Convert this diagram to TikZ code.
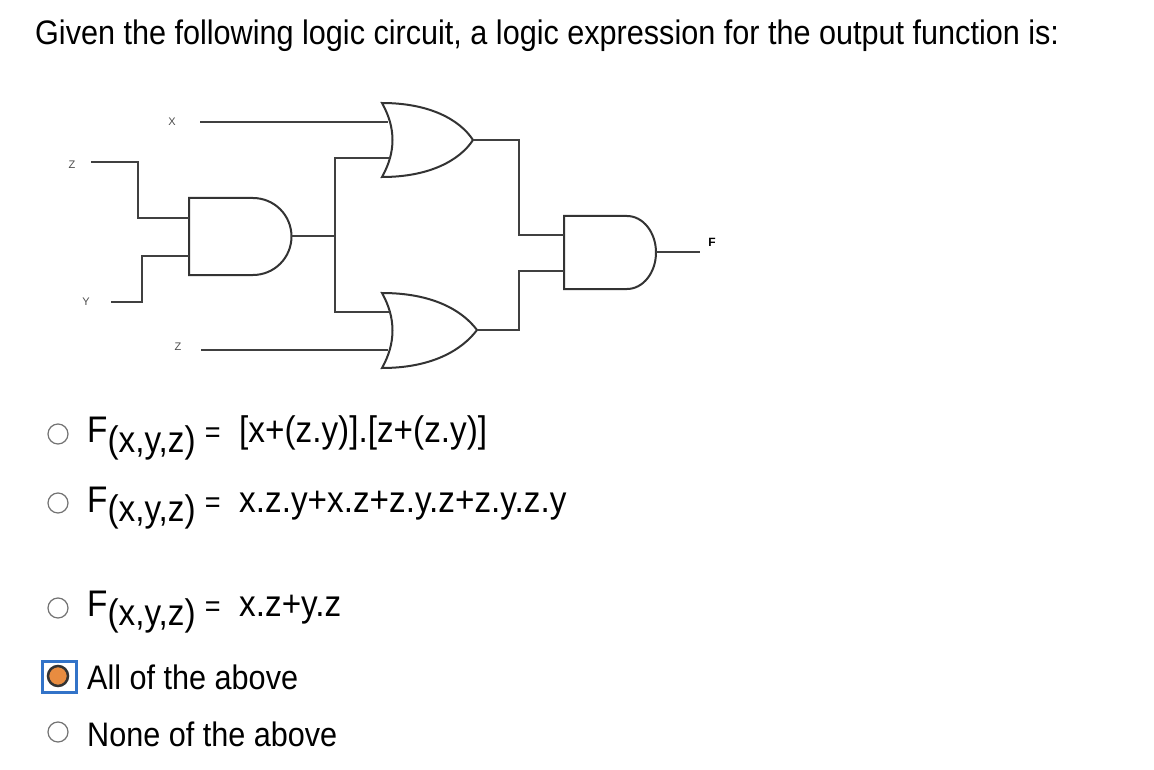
\documentclass[tikz,border=0pt]{standalone}
\usepackage{fontspec}
\setmainfont{Liberation Sans}
\begin{document}
\begin{tikzpicture}[x=1pt,y=-1pt,
  wire/.style={draw=black!75,line width=2pt},
  gate/.style={draw=black!80,line width=2pt},
  lbl/.style={text=black!70,font=\fontsize{11}{12}\selectfont,inner sep=0pt},
  txt/.style={anchor=west,inner sep=0pt,xscale=0.9,font=\fontsize{34}{38}\selectfont},
  otxt/.style={anchor=west,inner sep=0pt,xscale=0.9,font=\fontsize{37}{40}\selectfont},
  radio/.style={draw=black!55,line width=1.2pt,circle,minimum size=20pt,inner sep=0pt}]
\useasboundingbox (0,0) rectangle (1154,770);
\node[txt] (title) at (35,36) {Given the following logic circuit, a logic expression for the output function is:};
% OR gates
\draw[gate] (382,103) .. controls (396,128) and (396,152) .. (382,177)
  .. controls (430,177) and (460,160) .. (473,140)
  .. controls (460,120) and (430,103) .. cycle;
\draw[gate] (382,293) .. controls (396,318) and (396,343) .. (382,368)
  .. controls (432,368) and (462,350) .. (477,330)
  .. controls (462,310) and (432,293) .. cycle;
% AND gates
\draw[gate] (253,198) -- (189,198) -- (189,275) -- (253,275) arc (90:-90:38.5 and 38.5);
\draw[gate] (627,216) -- (564,216) -- (564,289) -- (627,289) arc (90:-90:29 and 36.5);
\coordinate (or1a) at (388,122); \coordinate (or1b) at (390,158); \coordinate (or1o) at (473,140);
\coordinate (or2a) at (390,312); \coordinate (or2b) at (388,350); \coordinate (or2o) at (477,330);
\coordinate (an1a) at (189,218); \coordinate (an1b) at (189,256); \coordinate (an1o) at (291,236);
\coordinate (an2a) at (564,235); \coordinate (an2b) at (564,271); \coordinate (an2o) at (656,252);
\coordinate (fo) at (700,252);
\node[lbl] (lx) at (172,122) {X};
\node[lbl] (lz1) at (72,165) {Z};
\node[lbl] (ly) at (86,302) {Y};
\node[lbl] (lz2) at (178,347) {Z};
\node[lbl,text=black,font=\bfseries\fontsize{12}{13}\selectfont] (lf) at (712,242) {F};
\coordinate (xs) at (200,122); \coordinate (z1s) at (91,162); \coordinate (ys) at (111,302); \coordinate (z2s) at (201,350);
\draw[wire] (xs) -- (or1a);
\draw[wire] (z1s) -- (138,162) |- (an1a);
\draw[wire] (ys) -- (142,302) |- (an1b);
\draw[wire] (z2s) -- (or2b);
\draw[wire] (an1o) -- (335,236);
\draw[wire] (or1b) -| (335,312) -- (or2a);
\draw[wire] (or1o) -| (519,235) -- (an2a);
\draw[wire] (or2o) -| (519,271) -- (an2b);
\draw[wire] (an2o) -- (fo);
% options
\newcommand{\Fxyz}{F\raisebox{-0.25em}{(x,y,z)}\ {\fontsize{30}{30}\selectfont =}\ \ }
\node[radio] (r1) at (58,434) {};
\node[otxt] (o1) at (87,438) {\Fxyz [x+(z.y)].[z+(z.y)]};
\node[radio] (r2) at (58,503) {};
\node[otxt] (o2) at (87,508) {\Fxyz x.z.y+x.z+z.y.z+z.y.z.y};
\node[radio] (r3) at (58,608) {};
\node[otxt] (o3) at (87,612) {\Fxyz x.z+y.z};
\draw[draw={rgb,255:red,50;green,115;blue,200},line width=3pt] (42,661) rectangle (76,692);
\node[circle,draw=black!80,line width=2.5pt,fill={rgb,255:red,232;green,140;blue,64},minimum size=20pt,inner sep=0pt] (r4) at (58,676) {};
\node[txt] (o4) at (87,677) {All of the above};
\node[radio] (r5) at (58,732) {};
\node[txt] (o5) at (87,734) {None of the above};
\end{tikzpicture}
\end{document}
